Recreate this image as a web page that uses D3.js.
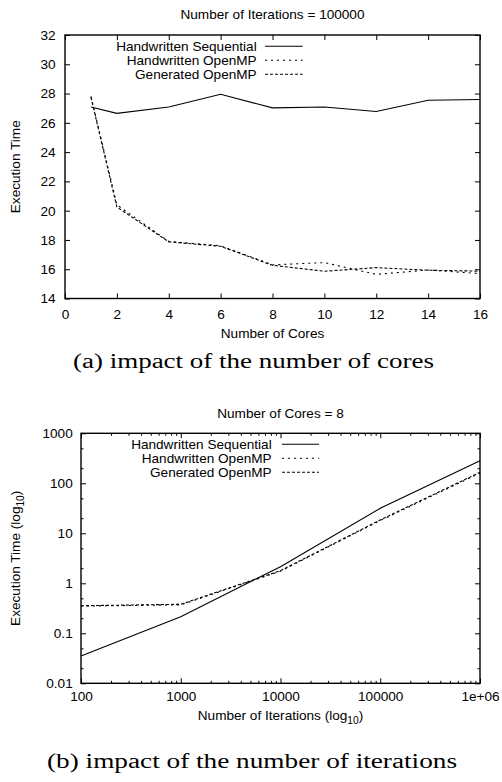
<!DOCTYPE html>
<html>
<head>
<meta charset="utf-8">
<script src="https://cdn.jsdelivr.net/npm/d3@7"></script>
<style>
body { margin: 0; background: #fff; }
text { font-family: "Liberation Sans", Arial, sans-serif; fill: #000; }
</style>
</head>
<body>
<svg></svg>
<script>
// chart (a): number of cores, 100000 iterations
const cores = [1, 2, 4, 6, 8, 10, 12, 14, 16]
const coresSeq = [27.08, 26.65, 27.08, 27.95, 27.02, 27.08, 26.77, 27.54, 27.59]
const coresHandOmp = [27.8, 20.4, 17.9, 17.6, 16.3, 16.45, 15.65, 15.95, 15.7]
const coresGenOmp = [27.75, 20.25, 17.87, 17.57, 16.27, 15.86, 16.11, 15.93, 15.87]
const coreTicks = [0, 2, 4, 6, 8, 10, 12, 14, 16]
const timeTicks = [14, 16, 18, 20, 22, 24, 26, 28, 30, 32]

// chart (b): number of iterations, 8 cores
const iterations = [100, 1000, 10000, 100000, 1000000]
const iterSeq = [0.035, 0.215, 2.15, 31.6, 283]
const iterHandOmp = [0.35, 0.37, 1.75, 18, 160]
const iterGenOmp = [0.356, 0.38, 1.79, 18.5, 166]
const iterTicks = [100, 1000, 10000, 100000, 1000000]
const iterLabels = ['100', '1000', '10000', '100000', '1e+06']
const logTimeTicks = [0.01, 0.1, 1, 10, 100, 1000]
const logTimeLabels = ['0.01', '0.1', '1', '10', '100', '1000']

const seriesNames = ['Handwritten Sequential', 'Handwritten OpenMP', 'Generated OpenMP']
const dashes = [null, '2,4', '3,2']

const w = 502
const h = 782
const fs = 13.6

let svg = d3.select('svg').attr('width', w).attr('height', h)
svg.append('rect').attr('width', w).attr('height', h).attr('fill', '#fff')

let styleAxis = (g) => {
    g.select('.domain').remove()
    g.selectAll('line').attr('stroke', '#000').attr('stroke-width', 1)
    g.selectAll('text').attr('font-size', fs).attr('font-family', '"Liberation Sans", Arial, sans-serif').attr('fill', '#000')
}

let drawFrame = (x0, y0, x1, y1) => {
    svg.append('rect')
    .attr('x', x0).attr('y', y0)
    .attr('width', x1 - x0).attr('height', y1 - y0)
    .attr('fill', 'none').attr('stroke', '#000').attr('stroke-width', 1.4)
}

let drawSeries = (xs, ys, xScale, yScale, dash) => {
    let line = d3.line().x((d, i) => xScale(xs[i])).y(d => yScale(d))
    svg.append('path')
    .attr('d', line(ys))
    .attr('fill', 'none')
    .attr('stroke', '#000')
    .attr('stroke-width', 1.1)
    .attr('stroke-dasharray', dash)
}

let drawLegend = (textRight, lineX0, lineX1, rowYs) => {
    seriesNames.forEach((name, i) => {
        svg.append('text')
        .attr('x', textRight).attr('y', rowYs[i] + 4.8)
        .attr('text-anchor', 'end').attr('font-size', fs)
        .text(name)
        svg.append('line')
        .attr('x1', lineX0).attr('x2', lineX1)
        .attr('y1', rowYs[i]).attr('y2', rowYs[i])
        .attr('stroke', '#000').attr('stroke-width', 1.1)
        .attr('stroke-dasharray', dashes[i])
    })
}

let subLabel = (sel, before, sub, after) => {
    sel.append('tspan').text(before)
    sel.append('tspan').attr('font-size', fs * 0.75).attr('dy', 4).text(sub)
    sel.append('tspan').attr('dy', -4).text(after)
}

// ---------- chart (a) ----------
let ax0 = 65, ax1 = 480, ay0 = 35, ay1 = 298.5

let xCores = d3.scaleLinear().domain([0, 16]).range([ax0, ax1])
let yCores = d3.scaleLinear().domain([14, 32]).range([ay1, ay0])

svg.append('g').attr('transform', 'translate(0,' + ay1 + ')')
.call(d3.axisBottom(xCores).tickValues(coreTicks).tickSize(-5).tickPadding(11))
.call(styleAxis)
svg.append('g').attr('transform', 'translate(0,' + ay0 + ')')
.call(d3.axisTop(xCores).tickValues(coreTicks).tickSize(-5).tickFormat(''))
.call(styleAxis)
svg.append('g').attr('transform', 'translate(' + ax0 + ',0)')
.call(d3.axisLeft(yCores).tickValues(timeTicks).tickSize(-5).tickPadding(9.5))
.call(styleAxis)
svg.append('g').attr('transform', 'translate(' + ax1 + ',0)')
.call(d3.axisRight(yCores).tickValues(timeTicks).tickSize(-5).tickFormat(''))
.call(styleAxis)

drawSeries(cores, coresSeq, xCores, yCores, dashes[0])
drawSeries(cores, coresHandOmp, xCores, yCores, dashes[1])
drawSeries(cores, coresGenOmp, xCores, yCores, dashes[2])
drawFrame(ax0, ay0, ax1, ay1)
drawLegend(256.7, 265, 302.7, [46.3, 60.3, 74.3])

svg.append('text').attr('x', (ax0 + ax1) / 2).attr('y', 19)
.attr('text-anchor', 'middle').attr('font-size', fs)
.text('Number of Iterations = 100000')
svg.append('text').attr('x', (ax0 + ax1) / 2).attr('y', 338)
.attr('text-anchor', 'middle').attr('font-size', fs)
.text('Number of Cores')
svg.append('text').attr('transform', 'translate(20,' + (ay0 + ay1) / 2 + ') rotate(-90)')
.attr('text-anchor', 'middle').attr('font-size', fs)
.text('Execution Time')

// ---------- chart (b) ----------
let bx0 = 81, bx1 = 480, by0 = 433.3, by1 = 683.3

let xIter = d3.scaleLog().domain([100, 1000000]).range([bx0, bx1])
let yIter = d3.scaleLog().domain([0.01, 1000]).range([by1, by0])

let minorX = []
iterTicks.slice(0, -1).forEach(d => { for (let k = 2; k <= 9; k++) minorX.push(d * k) })
let minorY = []
logTimeTicks.slice(0, -1).forEach(d => { minorY.push(d * 2, d * 5) })

svg.append('g').attr('transform', 'translate(0,' + by1 + ')')
.call(d3.axisBottom(xIter).tickValues(iterTicks).tickSize(-5).tickPadding(8.5).tickFormat((d, i) => iterLabels[i]))
.call(styleAxis)
svg.append('g').attr('transform', 'translate(0,' + by1 + ')')
.call(d3.axisBottom(xIter).tickValues(minorX).tickSize(-2.5).tickFormat(''))
.call(styleAxis)
svg.append('g').attr('transform', 'translate(0,' + by0 + ')')
.call(d3.axisTop(xIter).tickValues(iterTicks).tickSize(-5).tickFormat(''))
.call(styleAxis)
svg.append('g').attr('transform', 'translate(0,' + by0 + ')')
.call(d3.axisTop(xIter).tickValues(minorX).tickSize(-2.5).tickFormat(''))
.call(styleAxis)
svg.append('g').attr('transform', 'translate(' + bx0 + ',0)')
.call(d3.axisLeft(yIter).tickValues(logTimeTicks).tickSize(-5).tickPadding(8.3).tickFormat((d, i) => logTimeLabels[i]))
.call(styleAxis)
svg.append('g').attr('transform', 'translate(' + bx0 + ',0)')
.call(d3.axisLeft(yIter).tickValues(minorY).tickSize(-2.5).tickFormat(''))
.call(styleAxis)
svg.append('g').attr('transform', 'translate(' + bx1 + ',0)')
.call(d3.axisRight(yIter).tickValues(logTimeTicks).tickSize(-5).tickFormat(''))
.call(styleAxis)
svg.append('g').attr('transform', 'translate(' + bx1 + ',0)')
.call(d3.axisRight(yIter).tickValues(minorY).tickSize(-2.5).tickFormat(''))
.call(styleAxis)

drawSeries(iterations, iterSeq, xIter, yIter, dashes[0])
drawSeries(iterations, iterHandOmp, xIter, yIter, dashes[1])
drawSeries(iterations, iterGenOmp, xIter, yIter, dashes[2])
drawFrame(bx0, by0, bx1, by1)
drawLegend(271.7, 282, 319, [444.3, 458.3, 472.3])

svg.append('text').attr('x', (bx0 + bx1) / 2).attr('y', 418)
.attr('text-anchor', 'middle').attr('font-size', fs)
.text('Number of Cores = 8')
svg.append('text').attr('x', (bx0 + bx1) / 2).attr('y', 720)
.attr('text-anchor', 'middle').attr('font-size', fs)
.call(subLabel, 'Number of Iterations (log', '10', ')')
svg.append('text').attr('transform', 'translate(20,' + (by0 + by1) / 2 + ') rotate(-90)')
.attr('text-anchor', 'middle').attr('font-size', fs)
.call(subLabel, 'Execution Time (log', '10', ')')

// captions
svg.append('text').attr('x', 253.5).attr('y', 368)
.attr('text-anchor', 'middle')
.style('font-family', '"Liberation Serif", "DejaVu Serif", serif')
.attr('font-size', 20).attr('textLength', 361).attr('lengthAdjust', 'spacingAndGlyphs')
.text('(a) impact of the number of cores')
svg.append('text').attr('x', 252).attr('y', 768)
.attr('text-anchor', 'middle')
.style('font-family', '"Liberation Serif", "DejaVu Serif", serif')
.attr('font-size', 20).attr('textLength', 410).attr('lengthAdjust', 'spacingAndGlyphs')
.text('(b) impact of the number of iterations')
</script>
</body>
</html>
